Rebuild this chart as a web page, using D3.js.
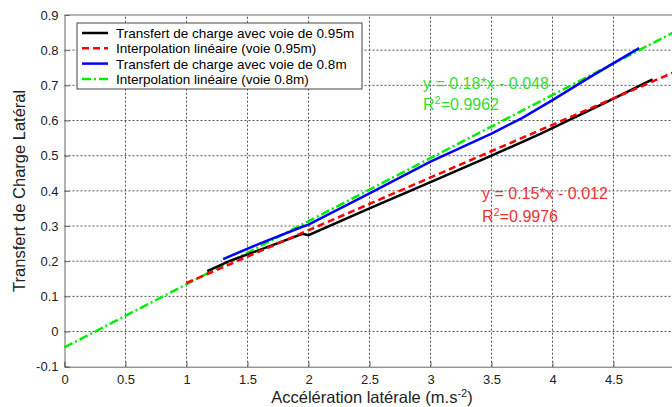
<!DOCTYPE html>
<html>
<head>
<meta charset="utf-8">
<script src="https://cdn.jsdelivr.net/npm/d3@7"></script>
<style>
  body { margin: 0; background: #fff; }
  svg { font-family: "Liberation Sans", Arial, sans-serif; }
</style>
</head>
<body>
<svg width="672" height="407"></svg>
<script>
// measured curves (accélération latérale, transfert de charge)
const black095X = [1.17, 1.35, 1.7, 1.95, 2.0, 2.5, 3.0, 3.5, 3.9, 4.4, 4.82];
const black095Y = [0.172, 0.2, 0.245, 0.278, 0.274, 0.35, 0.425, 0.5, 0.562, 0.645, 0.717];
const blue08X = [1.3, 1.6, 1.95, 2.0, 2.5, 3.0, 3.5, 3.75, 4.0, 4.3, 4.71];
const blue08Y = [0.206, 0.25, 0.298, 0.304, 0.393, 0.483, 0.563, 0.607, 0.658, 0.722, 0.806];
// linear fits
const red095X = [1.0, 5.0];
const red095Y = [0.138, 0.738];
const green08X = [0.0, 5.0];
const green08Y = [-0.045, 0.852];

const xTicks = [0, 0.5, 1, 1.5, 2, 2.5, 3, 3.5, 4, 4.5];
const yTicks = [-0.1, 0, 0.1, 0.2, 0.3, 0.4, 0.5, 0.6, 0.7, 0.8, 0.9];

const legendLabels = [
  "Transfert de charge avec voie de 0.95m",
  "Interpolation linéaire (voie 0.95m)",
  "Transfert de charge avec voie de 0.8m",
  "Interpolation linéaire (voie 0.8m)"
];

const svg = d3.select("svg");
const margin = { top: 15, right: 0, bottom: 40, left: 64.5 };
const plotW = 610; // x 0..5, right border falls just outside
const plotH = 407 - margin.top - margin.bottom - 0.3;

const x = d3.scaleLinear().domain([0, 5]).range([margin.left, margin.left + plotW]);
const y = d3.scaleLinear().domain([-0.1, 0.9]).range([margin.top + plotH, margin.top]);

const g = svg.append("g");

// grid
g.selectAll(".vgrid").data(xTicks.slice(1))
  .enter().append("line")
  .attr("x1", d => x(d)).attr("x2", d => x(d))
  .attr("y1", y(-0.1)).attr("y2", y(0.9))
  .attr("stroke", "#555").attr("stroke-width", 1)
  .attr("stroke-dasharray", "2,2");
g.selectAll(".hgrid").data(yTicks.slice(1, -1))
  .enter().append("line")
  .attr("x1", x(0)).attr("x2", x(5))
  .attr("y1", d => y(d)).attr("y2", d => y(d))
  .attr("stroke", "#555").attr("stroke-width", 1)
  .attr("stroke-dasharray", "2,2");

// axes
const xAxis = g.append("g")
  .attr("transform", `translate(0,${y(-0.1)})`)
  .call(d3.axisBottom(x).tickValues(xTicks).tickSize(-5).tickPadding(8).tickFormat(d => String(d)));
const yAxis = g.append("g")
  .attr("transform", `translate(${x(0)},0)`)
  .call(d3.axisLeft(y).tickValues(yTicks).tickSize(-5).tickPadding(6).tickFormat(d => String(d)));
[xAxis, yAxis].forEach(a => {
  a.select(".domain").attr("stroke", "#666");
  a.selectAll(".tick line").attr("stroke", "#666");
  a.selectAll(".tick text").attr("fill", "#222").style("font-size", "13px");
});
// top border
g.append("line")
  .attr("x1", x(0)).attr("x2", x(5))
  .attr("y1", y(0.9)).attr("y2", y(0.9))
  .attr("stroke", "#666");

// series
const line = d3.line().x(d => x(d[0])).y(d => y(d[1]));
const series = [
  { xs: green08X, ys: green08Y, color: "#00ee00", dash: "9,3,2,3", width: 2.5 },
  { xs: black095X, ys: black095Y, color: "#000", dash: null, width: 2.5 },
  { xs: red095X, ys: red095Y, color: "#ff0000", dash: "7,4", width: 2.5 },
  { xs: blue08X, ys: blue08Y, color: "#0000ff", dash: null, width: 2.5 }
];
series.forEach(s => {
  g.append("path")
    .datum(d3.zip(s.xs, s.ys))
    .attr("d", line)
    .attr("fill", "none")
    .attr("stroke", s.color)
    .attr("stroke-width", s.width)
    .attr("stroke-dasharray", s.dash);
});

// annotations
const green = "#33dd33", red = "#ee3333";
g.append("text").attr("x", 423).attr("y", 89).attr("fill", green)
  .style("font-size", "16px").text("y = 0.18*x - 0.048");
const r1 = g.append("text").attr("x", 423).attr("y", 110).attr("fill", green).style("font-size", "16px");
r1.append("tspan").text("R");
r1.append("tspan").attr("dy", -6).style("font-size", "11px").text("2");
r1.append("tspan").attr("dy", 6).text("=0.9962");

g.append("text").attr("x", 482).attr("y", 199).attr("fill", red)
  .style("font-size", "16px").text("y = 0.15*x - 0.012");
const r2 = g.append("text").attr("x", 482).attr("y", 222).attr("fill", red).style("font-size", "16px");
r2.append("tspan").text("R");
r2.append("tspan").attr("dy", -6).style("font-size", "11px").text("2");
r2.append("tspan").attr("dy", 6).text("=0.9976");

// axis labels
g.append("text")
  .attr("transform", `translate(25,${y(0.4)}) rotate(-90)`)
  .attr("text-anchor", "middle")
  .attr("fill", "#222")
  .style("font-size", "16.5px")
  .text("Transfert de Charge Latéral");
const xl = g.append("text")
  .attr("x", 372).attr("y", 403)
  .attr("text-anchor", "middle")
  .attr("fill", "#222")
  .style("font-size", "16.5px");
xl.append("tspan").text("Accélération latérale (m.s");
xl.append("tspan").attr("dy", -6).style("font-size", "11px").text("-2");
xl.append("tspan").attr("dy", 6).text(")");

// legend
const legend = g.append("g").attr("transform", "translate(77,23)");
legend.append("rect").attr("width", 285).attr("height", 66)
  .attr("fill", "#fff").attr("stroke", "#444");
const legendStyles = [series[1], series[2], series[3], series[0]];
legendLabels.forEach((lab, i) => {
  const yy = 10 + i * 15.3;
  const s = legendStyles[i];
  legend.append("line")
    .attr("x1", 5).attr("x2", 31).attr("y1", yy).attr("y2", yy)
    .attr("stroke", s.color).attr("stroke-width", 2.5)
    .attr("stroke-dasharray", s.dash);
  legend.append("text")
    .attr("x", 39).attr("y", yy + 5)
    .attr("fill", "#000")
    .style("font-size", "13.5px")
    .text(lab);
});
</script>
</body>
</html>
